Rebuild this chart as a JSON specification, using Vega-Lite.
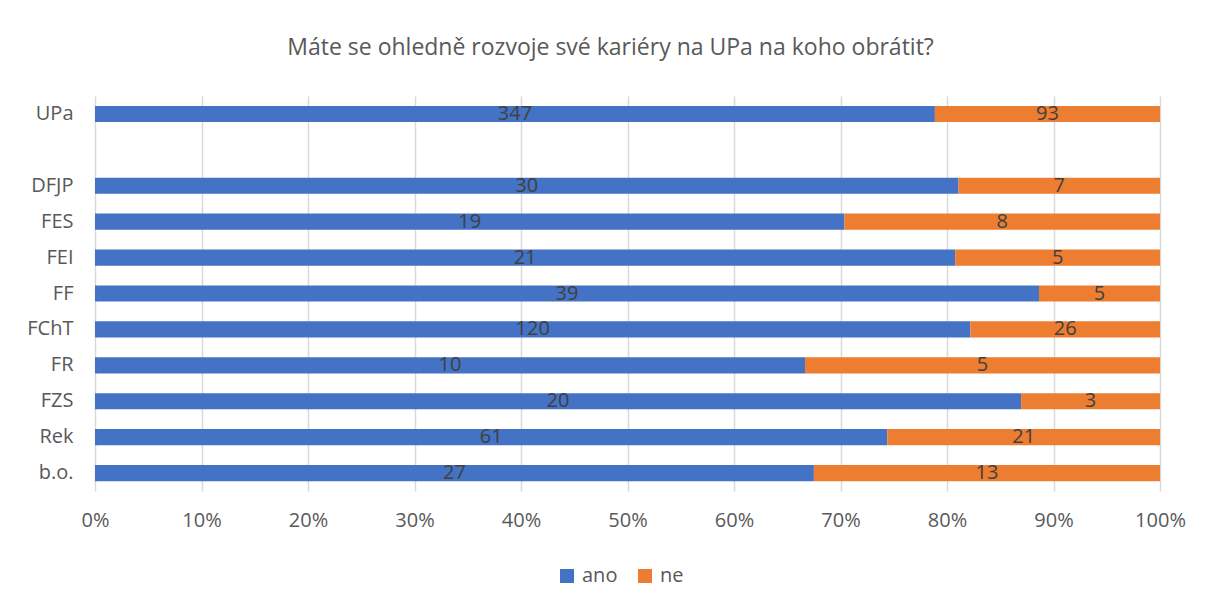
{
  "$schema": "https://vega.github.io/schema/vega-lite/v6.json",
  "width": 1065,
  "height": 395,
  "autosize": {"type": "none"},
  "padding": {"left": 95, "top": 96, "right": 46, "bottom": 117},
  "background": "white",
  "title": {
    "text": "Máte se ohledně rozvoje své kariéry na UPa na koho obrátit?",
    "fontSize": 23,
    "font": "Open Sans",
    "fontWeight": "normal",
    "color": "#595959",
    "anchor": "middle",
    "dx": -17,
    "offset": 36
  },
  "data": {
    "values": [
      {"fac": "UPa", "answer": "ano", "value": 347},
      {"fac": "UPa", "answer": "ne", "value": 93},
      {"fac": "DFJP", "answer": "ano", "value": 30},
      {"fac": "DFJP", "answer": "ne", "value": 7},
      {"fac": "FES", "answer": "ano", "value": 19},
      {"fac": "FES", "answer": "ne", "value": 8},
      {"fac": "FEI", "answer": "ano", "value": 21},
      {"fac": "FEI", "answer": "ne", "value": 5},
      {"fac": "FF", "answer": "ano", "value": 39},
      {"fac": "FF", "answer": "ne", "value": 5},
      {"fac": "FChT", "answer": "ano", "value": 120},
      {"fac": "FChT", "answer": "ne", "value": 26},
      {"fac": "FR", "answer": "ano", "value": 10},
      {"fac": "FR", "answer": "ne", "value": 5},
      {"fac": "FZS", "answer": "ano", "value": 20},
      {"fac": "FZS", "answer": "ne", "value": 3},
      {"fac": "Rek", "answer": "ano", "value": 61},
      {"fac": "Rek", "answer": "ne", "value": 21},
      {"fac": "b.o.", "answer": "ano", "value": 27},
      {"fac": "b.o.", "answer": "ne", "value": 13}
    ]
  },
  "encoding": {
    "y": {
      "field": "fac",
      "type": "nominal",
      "scale": {
        "domain": ["UPa", " ", "DFJP", "FES", "FEI", "FF", "FChT", "FR", "FZS", "Rek", "b.o."],
        "paddingInner": 0.55,
        "paddingOuter": 0.275
      },
      "axis": {
        "title": null,
        "domain": false,
        "ticks": false,
        "grid": false,
        "labelFont": "Open Sans",
        "labelFontSize": 20,
        "labelColor": "#595959",
        "labelPadding": 22
      }
    },
    "x": {
      "field": "value",
      "type": "quantitative",
      "stack": "normalize",
      "scale": {"domain": [0, 1], "nice": false},
      "axis": {
        "title": null,
        "format": ".0%",
        "values": [0, 0.1, 0.2, 0.3, 0.4, 0.5, 0.6, 0.7, 0.8, 0.9, 1],
        "domain": false,
        "ticks": false,
        "grid": true,
        "gridColor": "#D9D9D9",
        "gridWidth": 1.5,
        "labelFlush": false,
        "labelFont": "Open Sans",
        "labelFontSize": 20,
        "labelColor": "#595959",
        "labelPadding": 19
      }
    },
    "order": {"field": "answer", "sort": "ascending"}
  },
  "layer": [
    {
      "mark": {"type": "bar"},
      "encoding": {
        "color": {
          "field": "answer",
          "type": "nominal",
          "scale": {"domain": ["ano", "ne"], "range": ["#4472C4", "#ED7D31"]},
          "legend": {
            "title": null,
            "orient": "none",
            "direction": "horizontal",
            "legendX": 462,
            "legendY": 470,
            "symbolType": "square",
            "symbolSize": 196,
            "symbolStrokeWidth": 0,
            "labelFont": "Open Sans",
            "labelFontSize": 20,
            "labelColor": "#595959",
            "columnPadding": 17,
            "labelOffset": 5
          }
        }
      }
    },
    {
      "mark": {"type": "text", "font": "Open Sans", "fontSize": 20, "color": "#404040", "baseline": "middle"},
      "encoding": {
        "x": {
          "field": "value",
          "type": "quantitative",
          "stack": "normalize",
          "bandPosition": 0.5
        },
        "detail": {"field": "answer"},
        "text": {"field": "value", "type": "quantitative"}
      }
    }
  ],
  "config": {"view": {"stroke": null}}
}
